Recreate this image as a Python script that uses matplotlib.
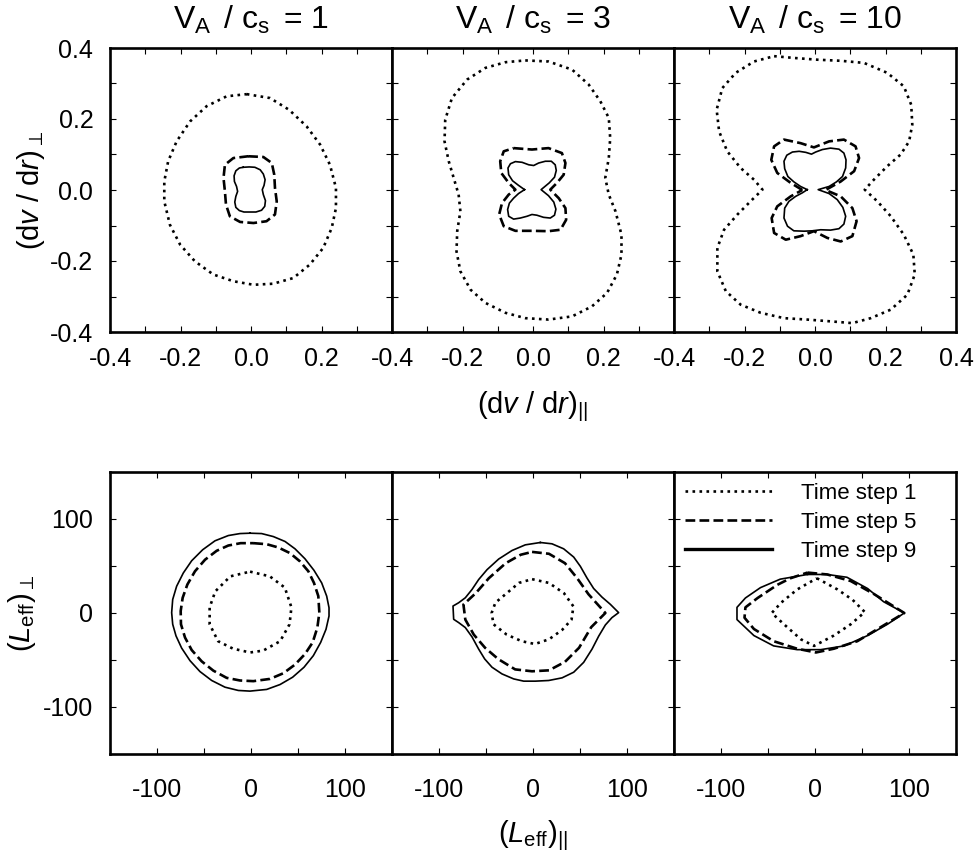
import numpy as np
import matplotlib
matplotlib.use("Agg")
import matplotlib.pyplot as plt
from matplotlib.ticker import MultipleLocator, FormatStrFormatter

plt.rcParams['font.family'] = ['Liberation Sans', 'DejaVu Sans']
plt.rcParams['mathtext.fontset'] = 'custom'
plt.rcParams['mathtext.rm'] = 'Liberation Sans'
plt.rcParams['mathtext.it'] = 'Liberation Sans:italic'
plt.rcParams['axes.unicode_minus'] = False

ratios = [1, 3, 10]
labels = ['Time step 1', 'Time step 5', 'Time step 9']

# ---- top row: velocity gradient, (dv/dr)_par vs (dv/dr)_perp ----
# V_A / c_s = 1
g1_t1_x = [-0.012, 0.054, 0.108, 0.158, 0.196, 0.224, 0.241, 0.241, 0.229, 0.205, 0.167, 0.120, 0.063,
           0.007, -0.050, -0.107, -0.159, -0.201, -0.230, -0.246, -0.246, -0.235, -0.211, -0.173, -0.126, -0.069]
g1_t1_y = [0.270, 0.259, 0.226, 0.179, 0.128, 0.071, 0.006, -0.051, -0.107, -0.163, -0.210, -0.248, -0.264,
           -0.267, -0.257, -0.238, -0.201, -0.154, -0.098, -0.032, 0.024, 0.081, 0.137, 0.193, 0.236, 0.264]
g1_t5_x = [-0.008, 0.035, 0.059, 0.066, 0.068, 0.073, 0.068, 0.044, 0.007, -0.031, -0.060, -0.071, -0.074,
           -0.078, -0.074, -0.050]
g1_t5_y = [0.095, 0.093, 0.076, 0.043, 0.006, -0.032, -0.069, -0.088, -0.093, -0.090, -0.074, -0.041, -0.004,
           0.034, 0.071, 0.090]
g1_t9_x = [-0.022, -0.005, 0.011, 0.026, 0.035, 0.040, 0.037, 0.032, 0.035, 0.041, 0.039, 0.030, 0.014,
           -0.003, -0.020, -0.033, -0.043, -0.046, -0.043, -0.038, -0.041, -0.047, -0.048, -0.043, -0.033]
g1_t9_y = [0.064, 0.065, 0.064, 0.057, 0.045, 0.029, 0.013, 0.001, -0.013, -0.030, -0.046, -0.057, -0.062,
           -0.062, -0.062, -0.058, -0.049, -0.034, -0.018, -0.004, 0.010, 0.024, 0.040, 0.054, 0.062]

# V_A / c_s = 3
g3_t1_x = [-0.022, 0.044, 0.111, 0.158, 0.191, 0.215, 0.219, 0.215, 0.205, 0.215, 0.234, 0.251, 0.251, 0.238,
           0.210, 0.167, 0.111, 0.044, -0.022, -0.078, -0.135, -0.177, -0.206, -0.217, -0.215, -0.206, -0.211,
           -0.225, -0.239, -0.251, -0.249, -0.230, -0.187, -0.135, -0.078]
g3_t1_y = [0.365, 0.362, 0.339, 0.297, 0.250, 0.203, 0.146, 0.090, 0.034, -0.013, -0.060, -0.126, -0.182,
           -0.238, -0.290, -0.328, -0.356, -0.365, -0.361, -0.346, -0.318, -0.281, -0.229, -0.173, -0.116, -0.060,
           -0.013, 0.034, 0.081, 0.137, 0.198, 0.259, 0.311, 0.344, 0.360]
g3_t5_x = [-0.055, -0.003, 0.044, 0.082, 0.092, 0.087, 0.068, 0.049, 0.073, 0.092, 0.094, 0.078, 0.044, -0.003,
           -0.050, -0.083, -0.096, -0.088, -0.069, -0.050, -0.069, -0.090, -0.093, -0.083]
g3_t5_y = [0.118, 0.114, 0.118, 0.104, 0.076, 0.043, 0.020, 0.001, -0.023, -0.051, -0.084, -0.112, -0.116,
           -0.115, -0.115, -0.102, -0.069, -0.037, -0.013, 0.001, 0.020, 0.048, 0.081, 0.109]
g3_t9_x = [-0.024, -0.041, -0.058, -0.069, -0.071, -0.064, -0.050, -0.031, -0.012, 0.002, 0.016, 0.035, 0.052,
           0.063, 0.066, 0.061, 0.046, 0.023, 0.044, 0.059, 0.065, 0.061, 0.049, 0.030, 0.011, -0.003, -0.017,
           -0.036, -0.055, -0.069, -0.072, -0.067, -0.055, -0.041]
g3_t9_y = [0.001, 0.013, 0.026, 0.043, 0.062, 0.074, 0.080, 0.078, 0.071, 0.069, 0.076, 0.081, 0.081,
           0.071, 0.055, 0.036, 0.020, 0.001, -0.016, -0.034, -0.054, -0.071, -0.079, -0.077, -0.071, -0.069,
           -0.074, -0.079, -0.082, -0.074, -0.055, -0.037, -0.023, -0.010]

# V_A / c_s = 10
g10_t1_x = [-0.116, -0.060, 0.007, 0.073, 0.139, 0.205, 0.252, 0.273, 0.276, 0.267, 0.243, 0.205, 0.167, 0.141,
            0.177, 0.215, 0.252, 0.279, 0.283, 0.262, 0.215, 0.158, 0.106, 0.044, -0.022, -0.088, -0.154, -0.211,
            -0.253, -0.277, -0.277, -0.258, -0.220, -0.178, -0.149, -0.173, -0.211, -0.249, -0.272, -0.279,
            -0.263, -0.225, -0.173]
g10_t1_y = [0.377, 0.372, 0.367, 0.364, 0.358, 0.330, 0.292, 0.240, 0.184, 0.137, 0.100, 0.067, 0.029, 0.001,
            -0.032, -0.074, -0.126, -0.182, -0.238, -0.295, -0.337, -0.361, -0.375, -0.370, -0.365, -0.361,
            -0.346, -0.323, -0.285, -0.229, -0.163, -0.112, -0.069, -0.027, 0.001, 0.029, 0.062, 0.109, 0.165,
            0.226, 0.287, 0.330, 0.362]
g10_t5_x = [-0.036, -0.069, -0.107, -0.124, -0.116, -0.088, -0.041, -0.003, 0.040, 0.082, 0.115, 0.125, 0.111,
            0.073, 0.030, 0.073, 0.106, 0.118, 0.106, 0.073, 0.035, -0.003, -0.041, -0.083, -0.116, -0.123,
            -0.107, -0.069]
g10_t5_y = [0.0, 0.020, 0.048, 0.085, 0.123, 0.142, 0.132, 0.120, 0.137, 0.142, 0.123, 0.090, 0.053, 0.024,
            0.0, -0.018, -0.051, -0.088, -0.130, -0.145, -0.135, -0.116, -0.130, -0.140, -0.121, -0.079, -0.046,
            -0.018]
g10_t9_x = [-0.022, -0.041, -0.060, -0.077, -0.086, -0.088, -0.080, -0.064, -0.045, -0.026, -0.010, 0.002,
            0.021, 0.044, 0.068, 0.082, 0.088, 0.087, 0.078, 0.061, 0.040, 0.009, 0.040, 0.063, 0.079, 0.087,
            0.082, 0.068, 0.044, 0.016, -0.008, -0.031, -0.060, -0.078, -0.088, -0.086, -0.074, -0.055, -0.036]
g10_t9_y = [0.001, 0.010, 0.023, 0.038, 0.060, 0.081, 0.098, 0.107, 0.109, 0.106, 0.101, 0.107, 0.114, 0.118,
            0.115, 0.104, 0.085, 0.062, 0.038, 0.023, 0.010, 0.001, -0.010, -0.027, -0.049, -0.074, -0.096,
            -0.109, -0.113, -0.112, -0.115, -0.116, -0.115, -0.102, -0.079, -0.051, -0.032, -0.018, -0.008]

# ---- bottom row: effective length, (L_eff)_par vs (L_eff)_perp ----
l1_t1_x = [-1, 20, 36, 43, 41, 31, 13, -1, -19, -35, -44, -44, -38, -22]
l1_t1_y = [44, 39, 27, 6, -12, -30, -40, -42, -38, -30, -12, 6, 23, 39]
l1_t5_x = [2.5, 16.7, 29.1, 41.5, 52.1, 61.0, 67.0, 71.6, 72.7, 70.6, 65.6, 57.4, 46.8, 34.4, 20.2, 2.5,
           -11.7, -25.9, -40.1, -52.5, -63.1, -70.2, -74.5, -74.8, -72.7, -67.7, -59.6, -48.9, -36.5, -24.1, -11.0]
l1_t5_y = [74.3, 73.2, 69.7, 63.7, 54.9, 44.4, 32.0, 18.0, 0.4, -15.5, -31.3, -43.7, -54.9, -64.1, -70.1, -72.5,
           -71.8, -69.0, -61.3, -51.4, -39.4, -26.1, -12.0, 2.1, 16.2, 30.3, 44.4, 56.7, 66.2, 71.8, 74.3]
l1_t9_x = [-1.1, 11.3, 23.8, 36.2, 46.8, 57.4, 67.0, 75.2, 80.5, 83.0, 83.0, 79.8, 74.1, 66.3, 56.4, 44.3, 30.9,
           16.7, -1.1, -13.5, -27.7, -41.8, -54.3, -64.9, -73.8, -79.8, -83.3, -84.4, -83.3, -79.1, -72.0, -63.1,
           -51.4, -38.3, -24.1, -11.7]
l1_t9_y = [84.9, 84.5, 81.3, 76.1, 68.3, 57.7, 45.4, 32.0, 18.0, 5.6, -3.2, -17.3, -31.3, -45.4, -57.7, -68.3,
           -76.1, -81.3, -83.1, -82.4, -78.9, -71.8, -62.3, -50.7, -37.3, -24.3, -12.0, 0.4, 14.4, 28.5, 42.6,
           55.6, 67.3, 76.8, 82.4, 84.5]

l3_t1_x = [-1, 17, 33, 43, 41, 31, 17, 2, -12, -28, -42, -44, -40, -28, -15]
l3_t1_y = [36, 32, 21, 7, -7, -18, -28, -33, -30, -23, -12, 0, 11, 21, 32]
l3_t5_x = [-1, 17, 34, 47, 59, 77, 62, 49, 34, 17, -1, -19, -37, -51, -63, -72, -74, -61, -47, -29, -13]
l3_t5_y = [65, 63, 53, 37, 20, 0, -15, -37, -52, -61, -62, -60, -49, -37, -23, -7, 9, 21, 37, 53, 62]
l3_t9_x = [7.8, 20.2, 32.6, 43.3, 50.4, 57.4, 64.5, 73.4, 82.3, 91.1, 84.0, 77.0, 69.9, 62.8, 53.9, 43.3,
           30.9, 16.7, 2.5, -9.9, -20.6, -33.0, -43.6, -51.4, -57.8, -64.9, -72.0, -79.1, -84.4, -85.1, -79.1,
           -72.0, -64.9, -57.8, -48.9, -36.5, -22.3, -8.2]
l3_t9_y = [75.0, 73.6, 68.3, 59.5, 49.6, 37.3, 26.1, 16.9, 9.2, 0.4, -4.9, -12.7, -24.6, -38.4, -52.5, -63.0,
           -69.0, -71.8, -72.5, -72.5, -70.1, -64.8, -57.7, -48.9, -38.4, -25.4, -15.5, -10.2, -6.7, 7.4, 10.9,
           16.2, 25.0, 35.6, 46.1, 57.4, 66.5, 72.5]

l10_t1_x = [2, 24, 40, 53, 38, 20, -1, -15, -33, -46, -36, -19]
l10_t1_y = [37, 25, 14, 1, -12, -24, -35, -28, -12, 0, 11, 25]
l10_t5_x = [-8, 13, 38, 63, 95, 70, 45, 20, 1, -19, -44, -65, -75, -74, -61, -40, -26]
l10_t5_y = [43, 41, 34, 20, 0, -15, -30, -38, -42, -38, -30, -17, -5, 6, 16, 30, 37]
l10_t9_x = [-8, 13, 34, 56, 73, 95, 77, 56, 31, 6, -19, -44, -65, -83, -83, -74, -58, -37]
l10_t9_y = [41, 41, 38, 26, 12, 0, -12, -24, -35, -39, -39, -35, -24, -7, 6, 16, 27, 36]

top_curves = [
    [(g1_t1_x, g1_t1_y), (g1_t5_x, g1_t5_y), (g1_t9_x, g1_t9_y)],
    [(g3_t1_x, g3_t1_y), (g3_t5_x, g3_t5_y), (g3_t9_x, g3_t9_y)],
    [(g10_t1_x, g10_t1_y), (g10_t5_x, g10_t5_y), (g10_t9_x, g10_t9_y)],
]
bottom_curves = [
    [(l1_t1_x, l1_t1_y), (l1_t5_x, l1_t5_y), (l1_t9_x, l1_t9_y)],
    [(l3_t1_x, l3_t1_y), (l3_t5_x, l3_t5_y), (l3_t9_x, l3_t9_y)],
    [(l10_t1_x, l10_t1_y), (l10_t5_x, l10_t5_y), (l10_t9_x, l10_t9_y)],
]

styles = [dict(ls=':', lw=1.9), dict(ls='--', lw=1.9), dict(ls='-', lw=1.2)]


def closed(v):
    return np.append(v, v[0])


def style_axes(ax):
    for s in ax.spines.values():
        s.set_linewidth(1.9)
    ax.tick_params(which='both', direction='in', top=True, right=True,
                   length=4, width=0.8, labelsize=18)
    ax.tick_params(axis='y', pad=12)


fig = plt.figure(figsize=(9.77, 8.56), dpi=100)
lefts = [110 / 977, 392 / 977, 674 / 977]
w = 282 / 977

for i in range(3):
    ax = fig.add_axes([lefts[i], 1 - 332 / 856, w, 284 / 856])
    for (x, y), st in zip(top_curves[i], styles):
        ax.plot(closed(x), closed(y), color='black', **st)
    ax.set_xlim(-0.4, 0.4)
    ax.set_ylim(-0.4, 0.4)
    ax.set_xticks([-0.4, -0.2, 0.0, 0.2, 0.4] if i == 2 else [-0.4, -0.2, 0.0, 0.2])
    ax.set_yticks([-0.4, -0.2, 0.0, 0.2, 0.4])
    ax.xaxis.set_minor_locator(MultipleLocator(0.1))
    ax.yaxis.set_minor_locator(MultipleLocator(0.1))
    ax.xaxis.set_major_formatter(FormatStrFormatter('%.1f'))
    ax.yaxis.set_major_formatter(FormatStrFormatter('%.1f'))
    style_axes(ax)
    ax.tick_params(axis='x', pad=11)
    if i > 0:
        ax.tick_params(axis='y', labelleft=False)
    else:
        ax.set_ylabel(r'(d$\mathit{v}$ / d$\mathit{r}$)$_\perp$', fontsize=21, labelpad=2)
    if i == 1:
        ax.set_xlabel(r'(d$\mathit{v}$ / d$\mathit{r}$)$_{||}$', fontsize=21, labelpad=13)
    ax.set_title(r'V$_\mathrm{A}\,$ / c$_\mathrm{s}\,$ = %d' % ratios[i], fontsize=23, pad=14)

for i in range(3):
    ax = fig.add_axes([lefts[i], 1 - 754 / 856, w, 282 / 856])
    for (x, y), st, lab in zip(bottom_curves[i], styles, labels):
        ax.plot(closed(x), closed(y), color='black', label=lab, **st)
    ax.set_xlim(-150, 150)
    ax.set_ylim(-150, 150)
    ax.set_xticks([-100, 0, 100])
    ax.set_yticks([-100, 0, 100])
    ax.xaxis.set_minor_locator(MultipleLocator(50))
    ax.yaxis.set_minor_locator(MultipleLocator(50))
    style_axes(ax)
    ax.tick_params(axis='x', pad=17)
    if i > 0:
        ax.tick_params(axis='y', labelleft=False)
    else:
        ax.set_ylabel(r'($\mathit{L}_\mathrm{eff}$)$_\perp$', fontsize=21, labelpad=4)
    if i == 1:
        ax.set_xlabel(r'($\mathit{L}_\mathrm{eff}$)$_{||}$', fontsize=21, labelpad=12)
    if i == 2:
        leg = ax.legend(loc='upper left', frameon=False, fontsize=16, handlelength=3.9,
                        handletextpad=1.3, labelspacing=0.35, borderaxespad=0.2, borderpad=0.3)
        leg.get_lines()[2].set_linewidth(2.4)

fig.savefig('out.png', dpi=100)
